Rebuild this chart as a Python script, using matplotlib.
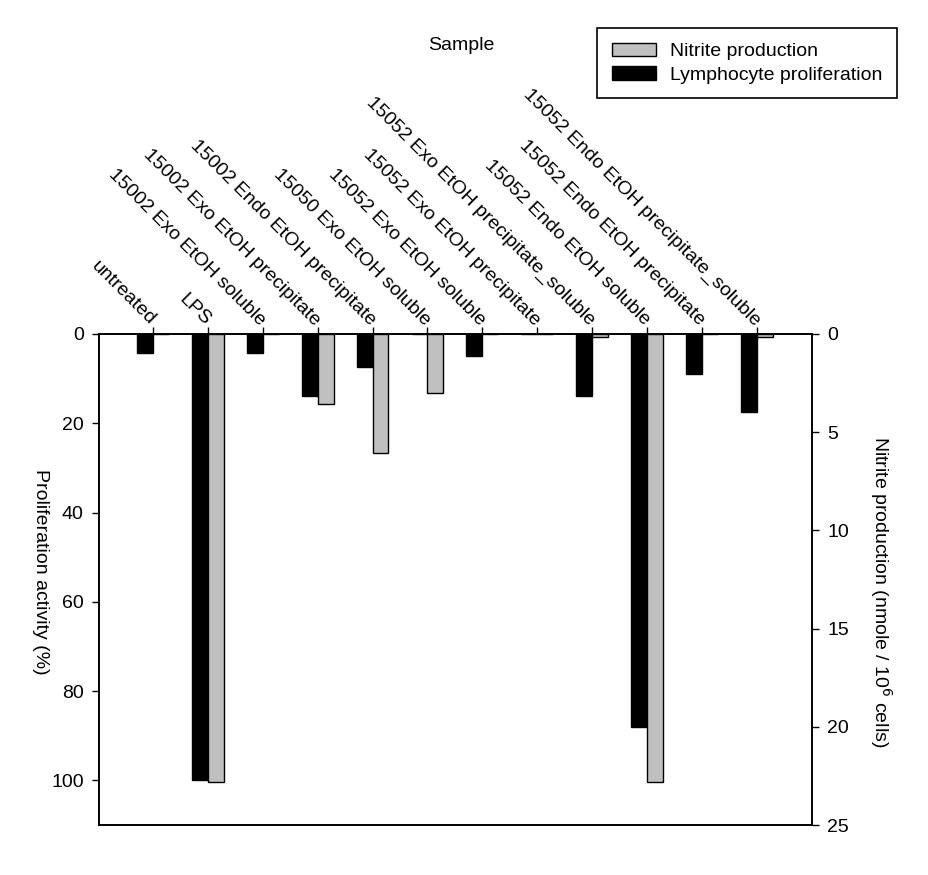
import numpy as np
import matplotlib
matplotlib.use('Agg')
import matplotlib.pyplot as plt
from matplotlib.patches import Patch

plt.rcParams['font.family'] = ['Liberation Sans', 'DejaVu Sans']
plt.rcParams['font.size'] = 14

samples = ['untreated', 'LPS',
           '15002 Exo EtOH soluble', '15002 Exo EtOH precipitate',
           '15002 Endo EtOH precipitate', '15050 Exo EtOH soluble',
           '15052 Exo EtOH soluble', '15052 Exo EtOH precipitate',
           '15052 Exo EtOH precipitate_soluble', '15052 Endo EtOH soluble',
           '15052 Endo EtOH precipitate', '15052 Endo EtOH precipitate_soluble']

# lymphocyte proliferation (%), left axis
prolif = [4.2, 100, 4.2, 13.9, 7.3, 0, 4.9, 0, 13.9, 88, 9.0, 17.4]
# nitrite production (nmole / 10^6 cells), right axis
nitrite = [0, 22.8, 0, 3.55, 6.05, 3.0, 0, 0, 0.17, 22.8, 0, 0.15]

pos = np.arange(1, len(samples) + 1)
w = 0.29

fig = plt.figure(figsize=(9.29, 8.75), dpi=100)
ax = fig.add_axes([99/929, 1 - 825/875, (812-99)/929, (825-334)/875])
ax2 = ax.twinx()

ax.bar(pos - w/2, prolif, w, color='black', edgecolor='black', linewidth=1)
ax2.bar(pos + w/2, nitrite, w, color='#c0c0c0', edgecolor='black', linewidth=1)

ax.set_xlim(0.02, 13.0)
ax.set_ylim(110, 0)
ax2.set_ylim(25, 0)
ax.set_yticks([0, 20, 40, 60, 80, 100])
ax2.set_yticks([0, 5, 10, 15, 20, 25])

ax.xaxis.tick_top()
ax.set_xticks(pos)
ax.set_xticklabels(samples)
plt.setp(ax.get_xticklabels(), rotation=-45, ha='right', va='center',
         rotation_mode='anchor')

for a in (ax, ax2):
    for s in a.spines.values():
        s.set_linewidth(1.2)
    a.tick_params(length=5, width=1, pad=6, labelsize=14)
ax.tick_params(axis='x', pad=3)

fig.text(461/929, 1 - 45/875, 'Sample', ha='center', va='center', fontsize=14)
fig.text(40/929, 1 - 572/875, 'Proliferation activity (%)', rotation=270,
         ha='center', va='center', fontsize=14)
fig.text(881/929, 1 - 592/875, r'Nitrite production (nmole / 10$^6$ cells)',
         rotation=270, ha='center', va='center', fontsize=14)

handles = [Patch(facecolor='#c0c0c0', edgecolor='black', label='Nitrite production'),
           Patch(facecolor='black', edgecolor='black', label='Lymphocyte proliferation')]
fig.legend(handles=handles, loc='upper right', bbox_to_anchor=(897/929, 1 - 28/875),
           fancybox=False, edgecolor='black', framealpha=1, fontsize=14,
           borderpad=0.75, labelspacing=0.3, handlelength=2.3, handletextpad=0.7,
           borderaxespad=0)
fig.legends[0].get_frame().set_linewidth(1.2)

fig.savefig('out.png', dpi=100)
